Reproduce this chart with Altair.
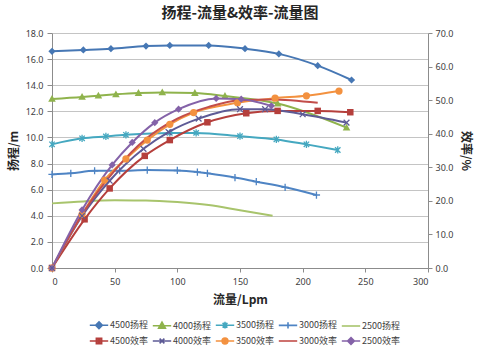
import altair as alt
import pandas as pd

TITLE = "扬程-流量&效率-流量图"
X_TITLE = "流量/Lpm"
YL_TITLE = "扬程/m"
YR_TITLE = "效率/%"

series_names = ["4500扬程", "4000扬程", "3500扬程", "3000扬程", "2500扬程",
                "4500效率", "4000效率", "3500效率", "3000效率", "2500效率"]
series_colors = ["#4677B4", "#8FB34C", "#45A8C0", "#4E84C4", "#A8C46C",
                 "#B53F3C", "#5E5B96", "#F3913F", "#C24D4A", "#8462A8"]

x_ticks = [0, 50, 100, 150, 200, 250, 300]
yl_ticks = [0, 2, 4, 6, 8, 10, 12, 14, 16, 18]
yr_ticks = [0, 10, 20, 30, 40, 50, 60, 70]

# head curves (m)
h4500_q = [0, 25, 47, 75, 94, 125, 154, 181, 212, 239]
h4500_v = [16.6, 16.7, 16.8, 17.0, 17.05, 17.05, 16.8, 16.4, 15.5, 14.4]
h4000_q = [0, 24, 37, 51, 69, 88, 114, 138, 180, 235]
h4000_v = [12.95, 13.1, 13.2, 13.3, 13.4, 13.45, 13.4, 13.17, 12.6, 10.75]
h3500_q = [0, 24, 43, 59, 94, 115, 150, 179, 203, 228]
h3500_v = [9.47, 9.93, 10.08, 10.2, 10.35, 10.35, 10.1, 9.85, 9.47, 9.04]
h3000_q = [0, 15, 34, 54, 76, 100, 116, 124, 146, 163, 186, 211]
h3000_v = [7.17, 7.25, 7.45, 7.45, 7.5, 7.47, 7.35, 7.25, 6.93, 6.61, 6.18, 5.59]
h2500_q = [0, 25, 50, 75, 100, 125, 150, 176]
h2500_v = [4.95, 5.1, 5.18, 5.17, 5.05, 4.82, 4.42, 4.0]

# efficiency curves (%)
e4500_q = [0, 26, 46, 74, 94, 124, 155, 180, 212, 238]
e4500_v = [0, 14.5, 23.7, 33.4, 38.1, 43.4, 46.1, 46.8, 46.8, 46.4]
e4000_q = [0, 24, 46, 73, 93, 117, 150, 170, 200, 235]
e4000_v = [0, 15.5, 26.0, 35.5, 40.5, 44.5, 47.3, 47.3, 45.8, 43.3]
e3500_q = [0, 24, 42, 59, 76, 94, 113, 148, 178, 203, 229]
e3500_v = [0, 16.0, 26.2, 32.5, 38.1, 42.8, 46.3, 49.2, 50.6, 51.3, 52.7]
e3000_q = [0, 25, 50, 75, 100, 125, 150, 175, 212]
e3000_v = [0, 16.5, 29.0, 38.5, 44.5, 48.0, 50.0, 50.2, 49.2]
e2500_q = [0, 24, 48, 64, 82, 101, 131, 151, 175]
e2500_v = [0, 17.3, 30.7, 37.4, 43.3, 47.3, 50.5, 50.3, 48.3]

head_series = [("4500扬程", h4500_q, h4500_v), ("4000扬程", h4000_q, h4000_v),
               ("3500扬程", h3500_q, h3500_v), ("3000扬程", h3000_q, h3000_v),
               ("2500扬程", h2500_q, h2500_v)]
eff_series = [("4500效率", e4500_q, e4500_v), ("4000效率", e4000_q, e4000_v),
              ("3500效率", e3500_q, e3500_v), ("3000效率", e3000_q, e3000_v),
              ("2500效率", e2500_q, e2500_v)]

# marker styles
DIAMOND = "M0,-1L1,0L0,1L-1,0Z"
TRIANGLE = "M0,-1.1L1.05,0.8L-1.05,0.8Z"
ASTER = "M-0.75,-0.75L0.75,0.75M-0.75,0.75L0.75,-0.75M0,-1L0,1"
PLUS = "M-1,0L1,0M0,-1L0,1"
SQUARE = "M-0.9,-0.9H0.9V0.9H-0.9Z"
XMARK = "M-0.8,-0.8L0.8,0.8M-0.8,0.8L0.8,-0.8"
NONE = "M0,0"
marker_paths = [DIAMOND, TRIANGLE, ASTER, PLUS, NONE,
                SQUARE, XMARK, "circle", NONE, DIAMOND]
filled_series = ["4500扬程", "4000扬程", "4500效率", "3500效率", "2500效率"]
stroked_series = ["3500扬程", "3000扬程", "4000效率"]

# legend symbols: a short line with the marker drawn by strokes only
STUB = "M-1.15,0H1.15"
legend_paths = [
    STUB + "M0,-0.42L0.42,0L0,0.42L-0.42,0ZM0,-0.2L0.2,0L0,0.2L-0.2,0Z",
    STUB + "M0,-0.45L0.42,0.3L-0.42,0.3ZM0,-0.15L0.15,0.15L-0.15,0.15Z",
    STUB + "M-0.3,-0.3L0.3,0.3M-0.3,0.3L0.3,-0.3M0,-0.42L0,0.42",
    STUB + "M0,-0.38L0,0.38",
    STUB,
    STUB + "M-0.33,-0.33H0.33V0.33H-0.33ZM-0.12,-0.12H0.12V0.12H-0.12Z",
    STUB + "M-0.3,-0.3L0.3,0.3M-0.3,0.3L0.3,-0.3",
    STUB + "M0.36,0A0.36,0.36,0,1,1,-0.36,0A0.36,0.36,0,1,1,0.36,0ZM0.15,0A0.15,0.15,0,1,1,-0.15,0A0.15,0.15,0,1,1,0.15,0Z",
    STUB,
    STUB + "M0,-0.42L0.42,0L0,0.42L-0.42,0ZM0,-0.2L0.2,0L0,0.2L-0.2,0Z",
]


def to_df(items):
    rows = []
    for name, qs, vs in items:
        for i, (q, v) in enumerate(zip(qs, vs)):
            rows.append({"series": name, "q": q, "v": v, "i": i})
    return pd.DataFrame(rows)


head_df = to_df(head_series)
eff_df = to_df(eff_series)

LABEL_FONT = "Noto Sans"
CJK = "Noto Sans CJK SC"

color_scale = alt.Scale(domain=series_names, range=series_colors)
shape_scale = alt.Scale(domain=series_names, range=marker_paths)

x_enc = alt.X("q:Q", scale=alt.Scale(domain=[0, 300], nice=False),
              axis=alt.Axis(values=x_ticks, title=X_TITLE, grid=False,
                            tickSize=4, labelPadding=5, titlePadding=8,
                            labelFontSize=9))


def build(df, y_enc):
    base = alt.Chart(df)
    line = base.mark_line(strokeWidth=2, interpolate="monotone").encode(
        x=x_enc, y=y_enc,
        color=alt.Color("series:N", scale=color_scale, legend=None),
        order="i:Q", detail="series:N")
    pts_f = base.mark_point(filled=True, size=52, opacity=1).encode(
        x=x_enc, y=y_enc,
        color=alt.Color("series:N", scale=color_scale, legend=None),
        shape=alt.Shape("series:N", scale=shape_scale, legend=None),
    ).transform_filter(alt.FieldOneOfPredicate(field="series", oneOf=filled_series))
    pts_s = base.mark_point(filled=False, size=52, strokeWidth=1.3, opacity=1).encode(
        x=x_enc, y=y_enc,
        color=alt.Color("series:N", scale=color_scale, legend=None),
        shape=alt.Shape("series:N", scale=shape_scale, legend=None),
    ).transform_filter(alt.FieldOneOfPredicate(field="series", oneOf=stroked_series))
    return alt.layer(line, pts_f, pts_s)


yl_enc = alt.Y("v:Q", scale=alt.Scale(domain=[0, 18], nice=False),
               axis=alt.Axis(values=yl_ticks, format=".1f", title=YL_TITLE,
                             orient="left", grid=True, tickSize=5,
                             labelPadding=4, titlePadding=5))
yr_enc = alt.Y("v:Q", scale=alt.Scale(domain=[0, 70], nice=False),
               axis=alt.Axis(values=yr_ticks, format=".1f", title=YR_TITLE,
                             orient="right", grid=False, tickSize=4,
                             labelPadding=3, titlePadding=6))

head_layer = build(head_df, yl_enc)
eff_layer = build(eff_df, yr_enc)

legend_df = pd.DataFrame({"series": series_names})
leg = alt.Legend(orient="none", legendX=38, legendY=283, columns=5,
                 direction="horizontal", title=None,
                 symbolSize=256, symbolStrokeWidth=1.6, labelFontSize=9,
                 labelFont=CJK, labelColor="#404040", labelOffset=2,
                 columnPadding=1, rowPadding=0)
legend_layer = alt.Chart(legend_df).mark_point(filled=False, strokeWidth=1.6, size=256, opacity=1).encode(
    color=alt.Color("series:N", scale=alt.Scale(domain=series_names, range=series_colors), legend=leg),
    shape=alt.Shape("series:N", scale=alt.Scale(domain=series_names, range=legend_paths), legend=leg),
).transform_filter("false")

chart = alt.layer(head_layer, eff_layer, legend_layer).resolve_scale(
    y="independent", shape="independent", color="independent"
).properties(
    width=376, height=235,
    title=alt.TitleParams(TITLE, font=CJK, fontSize=15, fontWeight="bold",
                          color="#262626", anchor="middle", offset=8),
    autosize=alt.AutoSizeParams(type="none"),
    padding={"left": 52, "top": 33, "right": 55, "bottom": 87},
).configure_view(stroke=None).configure_axis(
    domainColor="#8C8C8C", tickColor="#8C8C8C", gridColor="#C4C4C4",
    labelFont=LABEL_FONT, labelFontSize=9, labelColor="#404040",
    titleFont=CJK, titleFontSize=12, titleFontWeight="bold", titleColor="#262626",
)

chart.save("out.html", embed_options={"renderer": "svg", "actions": False})
